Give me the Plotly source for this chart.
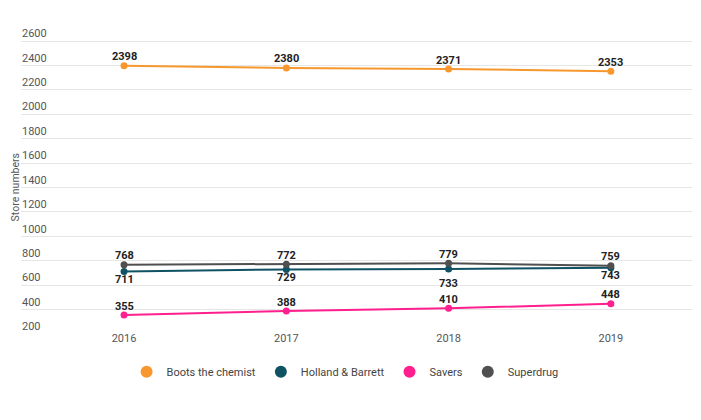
import plotly.graph_objects as go

years = [2016, 2017, 2018, 2019]
boots = [2398, 2380, 2371, 2353]
holland = [711, 729, 733, 743]
savers = [355, 388, 410, 448]
superdrug = [768, 772, 779, 759]
y_ticks = [200, 400, 600, 800, 1000, 1200, 1400, 1600, 1800, 2000, 2200, 2400, 2600]

series = [
    ("Boots the chemist", boots, "#f7982f", [9, 9, 9, 9]),
    ("Holland & Barrett", holland, "#0f5264", [-8, -8, -15, -8]),
    ("Savers", savers, "#ff1f8e", [9, 9, 9, 9]),
    ("Superdrug", superdrug, "#505050", [9, 9, 9, 9]),
]

fig = go.Figure()
for name, vals, color, shifts in series:
    fig.add_trace(go.Scatter(
        x=years, y=vals, name=name, mode="lines+markers",
        line=dict(color=color, width=2), marker=dict(color=color, size=7),
        showlegend=False, hoverinfo="skip",
    ))
for name, vals, color, shifts in series:
    fig.add_trace(go.Scatter(
        x=[None], y=[None], name=name, mode="markers",
        marker=dict(color=color, size=12), showlegend=True, hoverinfo="skip",
    ))
    for x, v, s in zip(years, vals, shifts):
        fig.add_annotation(x=x, y=v, text=str(v), showarrow=False, yshift=s,
                           font=dict(family="Roboto", size=11, color="#222222", weight="bold"))

fig.add_annotation(x=-0.0089, y=0.47, xref="paper", yref="paper", xanchor="center", yanchor="middle",
                   text="Store numbers", textangle=-90, showarrow=False, borderpad=0,
                   font=dict(family="Roboto", size=10.5, color="#555555"))

fig.update_layout(
    width=701, height=420, paper_bgcolor="white", plot_bgcolor="white",
    margin=dict(l=13, r=17, t=14, b=94),
    font=dict(family="Roboto", size=11, color="#555555"),
    xaxis=dict(range=[2015.365, 2019.5], tickvals=years, showgrid=False, zeroline=False,
               showline=False, ticks="", tickfont=dict(size=11, color="#555555"),
               ticklabelstandoff=-4),
    yaxis=dict(range=[200, 2756], tickvals=y_ticks, showgrid=True, gridcolor="#e6e6e6",
               gridwidth=1, zeroline=False, ticklabelposition="inside top",
               ticklabelstandoff=-2,
               tickfont=dict(size=11, color="#555555")),
    legend=dict(orientation="h", x=0.483, xanchor="center", y=-0.121, yanchor="middle",
                font=dict(size=11, color="#444444"), traceorder="normal"),
    showlegend=True,
)
fig.write_html("out.html")
